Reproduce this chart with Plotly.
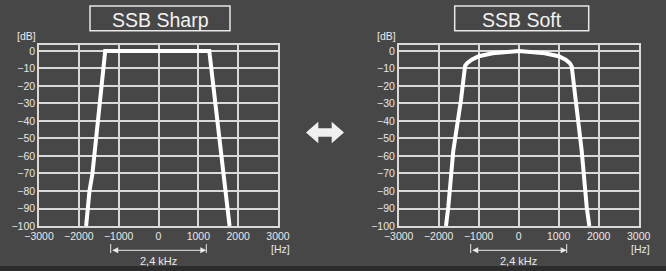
import plotly.graph_objects as go

# ---- data ----
sharp_freq = [-1817, -1774, -1733, -1658, -1573, -1522, -1338,
              1275, 1530, 1633, 1700, 1750, 1784]
sharp_level = [-100, -90, -80, -70, -50, -40, 0,
               0, -50, -70, -80, -90, -100]

soft_freq = [-1818, -1760, -1635, -1443, -1340, -1290, -1175, -1000, -650, 0,
             650, 1000, 1175, 1280, 1325, 1425, 1575, 1700, 1765]
soft_level = [-100, -89, -57, -28, -8.5, -7, -5, -3, -1.3, 0,
              -1.3, -3, -5, -7, -8.8, -28, -57, -89, -100]

x_ticks = [-3000, -2000, -1000, 0, 1000, 2000, 3000]
y_ticks = [0, -10, -20, -30, -40, -50, -60, -70, -80, -90, -100]
titles = ["SSB Sharp", "SSB Soft"]
bandwidth_hz = 2400
bandwidth_label = "2,4 kHz"

W, H = 666, 271
BG = "#474747"
GRID = "#dadada"
TXT = "#e8e8e8"
FONT = "Liberation Sans"


def px(x):
    return x / W


def py(y):
    return 1 - y / H


fig = go.Figure()
fig.add_trace(go.Scatter(x=sharp_freq, y=sharp_level, mode="lines",
                         line=dict(color="white", width=4), xaxis="x", yaxis="y",
                         showlegend=False, hoverinfo="skip"))
fig.add_trace(go.Scatter(x=soft_freq, y=soft_level, mode="lines",
                         line=dict(color="white", width=4), xaxis="x2", yaxis="y2",
                         showlegend=False, hoverinfo="skip"))

axis_common = dict(showgrid=True, gridcolor=GRID, gridwidth=1.5, showline=True,
                   linecolor=GRID, linewidth=1.5, mirror=True, zeroline=False,
                   ticks="", automargin=False,
                   tickfont=dict(family=FONT, size=10.5, color=TXT))

xdom = [[39 / W, 278 / W], [398.7 / W, 638.7 / W]]
ydom = [py(226), py(45)]

layout = dict(width=W, height=H, margin=dict(l=0, r=0, t=0, b=0, pad=0),
              autosize=False,
              paper_bgcolor=BG, plot_bgcolor=BG, font=dict(family=FONT, color=TXT),
              showlegend=False)
for i, suf in enumerate(["", "2"]):
    layout["xaxis" + suf] = dict(axis_common, domain=xdom[i], range=[-3000, 3000],
                                 tickvals=x_ticks, anchor="y" + suf)
    layout["yaxis" + suf] = dict(axis_common, domain=ydom, range=[-100, 3.4],
                                 tickvals=y_ticks, anchor="x" + suf)
fig.update_layout(**layout)

shapes = []
annotations = []
box_x = [(90, 230), (454.7, 588.7)]
for i, suf in enumerate(["", "2"]):
    xr = "x" + suf
    x0, x1 = box_x[i]
    shapes.append(dict(type="rect", xref="paper", yref="paper",
                       x0=px(x0), x1=px(x1), y0=py(30.7), y1=py(6),
                       line=dict(color=TXT, width=1.5)))
    annotations.append(dict(text=titles[i], xref="paper", yref="paper",
                            x=px((x0 + x1) / 2), y=py(19.5), showarrow=False,
                            xanchor="center", yanchor="middle",
                            font=dict(family=FONT, size=19.5, color="#f2f2f2")))
    dbx = xdom[i][0] * W - 12.5
    annotations.append(dict(text="[dB]", xref="paper", yref="paper",
                            x=px(dbx), y=py(36), showarrow=False,
                            xanchor="center", yanchor="middle",
                            font=dict(family=FONT, size=10.5, color=TXT)))
    hzx = xdom[i][1] * W + 2
    annotations.append(dict(text="[Hz]", xref="paper", yref="paper",
                            x=px(hzx), y=py(248.5), showarrow=False,
                            xanchor="center", yanchor="middle",
                            font=dict(family=FONT, size=10.5, color=TXT)))
    half = bandwidth_hz / 2
    for xv in (-half, half):
        shapes.append(dict(type="line", xref=xr, yref="paper", x0=xv, x1=xv,
                           y0=py(253), y1=py(244), line=dict(color=TXT, width=1)))
    annotations.append(dict(text="", xref=xr, yref="paper", x=half, y=py(250.3),
                            axref=xr, ax=-half, ayref="pixel", ay=0,
                            showarrow=True, arrowhead=2, arrowsize=1.2,
                            arrowwidth=1, arrowside="end+start", arrowcolor=TXT,
                            standoff=0, startstandoff=0))
    annotations.append(dict(text=bandwidth_label, xref=xr, yref="paper", x=0,
                            y=py(260.7), showarrow=False, xanchor="center",
                            yanchor="middle",
                            font=dict(family=FONT, size=11, color=TXT)))

pts = [(306, 132.5), (318.3, 121.7), (318.3, 128.3), (331.7, 128.3), (331.7, 121.7),
       (344, 132.5), (331.7, 143.3), (331.7, 136.7), (318.3, 136.7), (318.3, 143.3)]
path = "M " + " L ".join(f"{px(a):.5f},{py(b):.5f}" for a, b in pts) + " Z"
shapes.append(dict(type="path", xref="paper", yref="paper", path=path,
                   fillcolor="#f0f0f0", line=dict(width=0)))
shapes.append(dict(type="rect", xref="paper", yref="paper", x0=0, x1=1,
                   y0=0, y1=py(266), fillcolor="#2c2c2c", line=dict(width=0),
                   layer="below"))

fig.update_layout(shapes=shapes, annotations=annotations)
fig.write_html("out.html",
               config={"displayModeBar": False},
               post_script="document.body.style.margin='0';"
                           "document.body.style.padding='0';"
                           "document.body.style.background='#474747';"
                           "document.body.style.overflow='hidden';")
